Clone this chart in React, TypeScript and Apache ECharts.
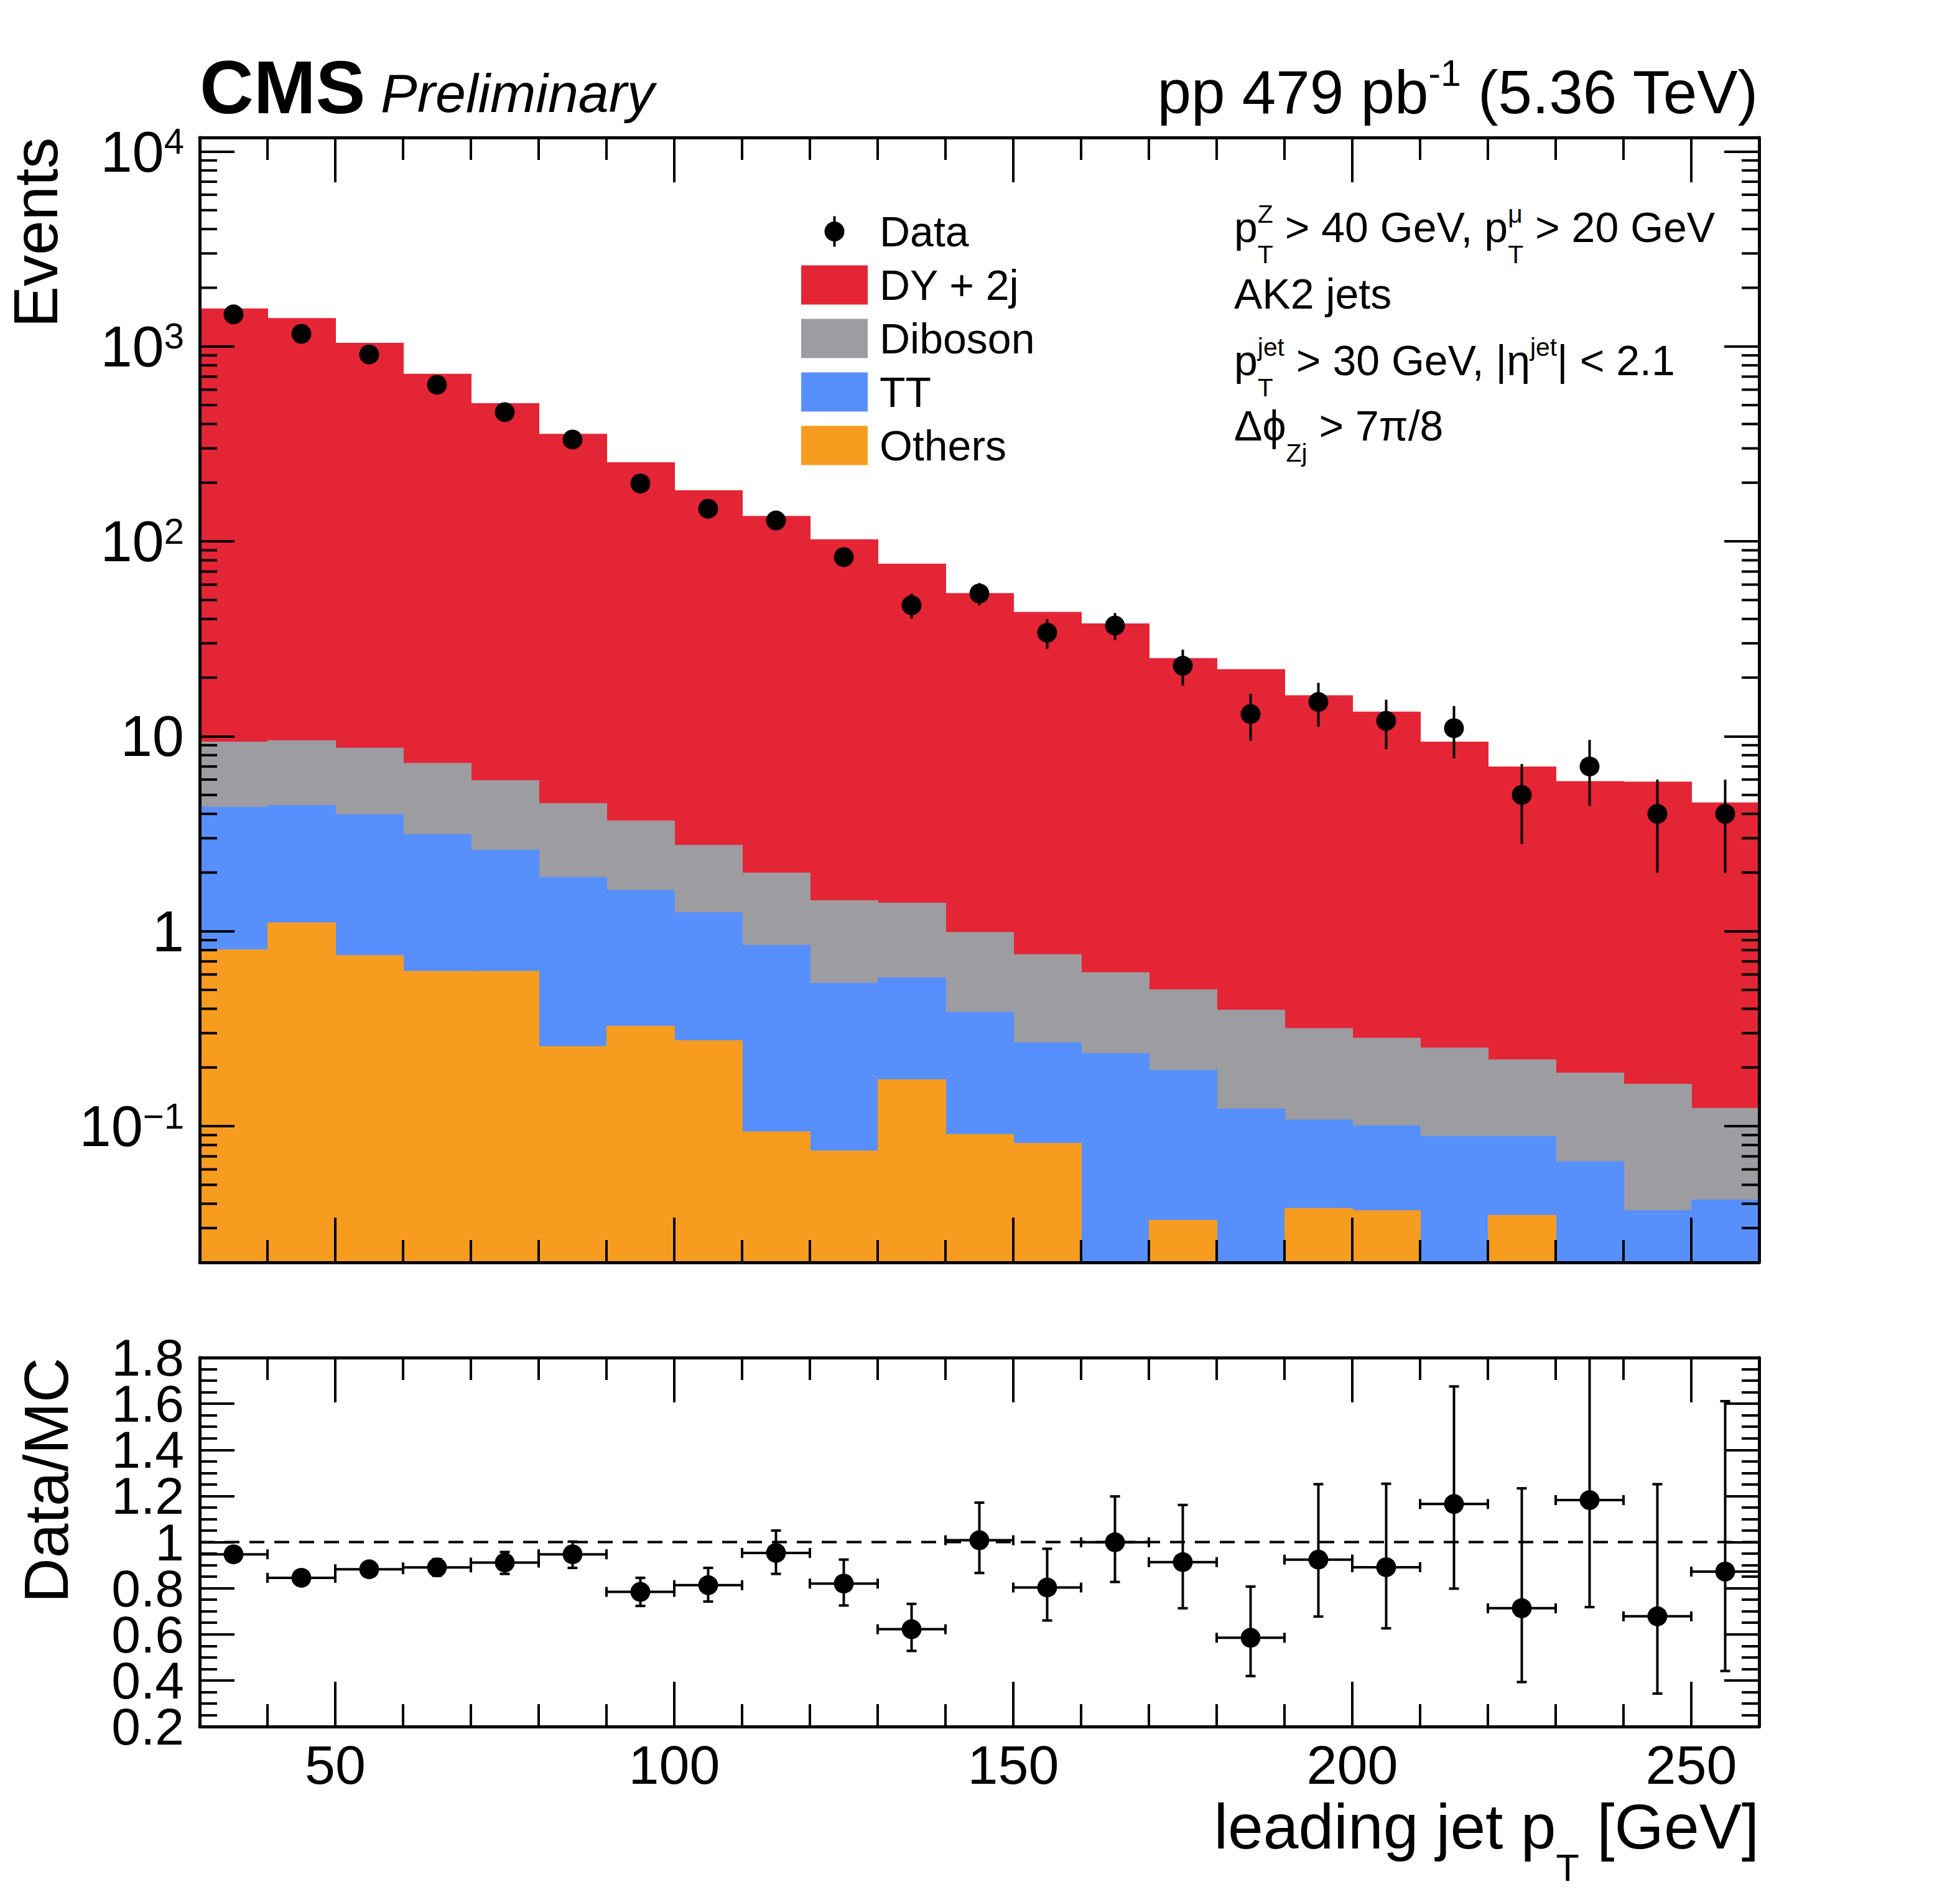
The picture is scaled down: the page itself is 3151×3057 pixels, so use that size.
import React, { useEffect, useRef } from "react";
import * as echarts from "echarts";

const FONT = "'Liberation Sans', Arimo, Helvetica, Arial, sans-serif";

// 10 GeV bins of leading jet pT
const binLow = [30, 40, 50, 60, 70, 80, 90, 100, 110, 120, 130, 140, 150, 160, 170, 180, 190, 200, 210, 220, 230, 240, 250];
const binHigh = [40, 50, 60, 70, 80, 90, 100, 110, 120, 130, 140, 150, 160, 170, 180, 190, 200, 210, 220, 230, 240, 250, 260];
const binCenter = [35, 45, 55, 65, 75, 85, 95, 105, 115, 125, 135, 145, 155, 165, 175, 185, 195, 205, 215, 225, 235, 245, 255];

// expected events per process (stack order bottom -> top: Others, TT, Diboson, DY + 2j)
const dyTwoJet = [1558, 1388, 1035, 717, 506, 352, 251, 180, 133, 101, 75.4, 53.3, 42.7, 37.3, 24.7, 21.7, 15.9, 13.1, 9.13, 6.78, 5.7, 5.69, 4.45];
const diboson = [5.04, 5.1, 4.76, 4.16, 3.34, 2.65, 2.07, 1.52, 1.15, 0.897, 0.821, 0.604, 0.493, 0.379, 0.309, 0.272, 0.21, 0.183, 0.164, 0.131, 0.122, 0.128, 0.082];
const ttbar = [3.54, 3.33, 3.23, 2.52, 1.99, 1.64, 1.3, 0.974, 0.756, 0.468, 0.405, 0.295, 0.187, 0.237, 0.161, 0.123, 0.07, 0.064, 0.089, 0.054, 0.066, 0.037, 0.042];
const others = [0.806, 1.11, 0.753, 0.626, 0.626, 0.257, 0.327, 0.276, 0.094, 0.075, 0.174, 0.091, 0.082, 0, 0.033, 0, 0.038, 0.037, 0, 0.035, 0, 0, 0];

// observed data
const dataCounts = [1460, 1160, 910, 636, 460, 333, 198, 147, 128, 83, 47, 54, 34, 37, 23, 13, 15, 12, 11, 5, 7, 4, 4];
const dataErr = [38, 34, 30, 25, 21, 18, 14, 12, 11, 9, 6.9, 7.1, 5.9, 5.9, 4.8, 3.5, 3.8, 3.4, 3.3, 2.2, 2.6, 2.0, 2.0];

// Data/MC
const ratio = [0.947, 0.845, 0.882, 0.89, 0.911, 0.947, 0.784, 0.813, 0.953, 0.82, 0.622, 1.008, 0.803, 0.999, 0.913, 0.585, 0.924, 0.891, 1.165, 0.713, 1.182, 0.678, 0.872];
const ratioErrDown = [0.025, 0.026, 0.03, 0.036, 0.049, 0.059, 0.061, 0.071, 0.091, 0.095, 0.094, 0.142, 0.143, 0.172, 0.2, 0.166, 0.247, 0.265, 0.367, 0.32, 0.464, 0.335, 0.431];
const ratioErrUp = [0.025, 0.026, 0.03, 0.036, 0.046, 0.055, 0.061, 0.075, 0.097, 0.104, 0.11, 0.163, 0.168, 0.199, 0.248, 0.222, 0.327, 0.362, 0.51, 0.52, 0.7, 0.573, 0.739];

// log axis minor ticks
const logDecades = [0.01, 0.1, 1, 10, 100, 1000];
const logSteps = [2, 3, 4, 5, 6, 7, 8, 9];

const X_MIN = 30;
const X_MAX = 260;
const Y_MIN = 0.02;
const Y_MAX = 11800;
const R_MIN = 0.2;
const R_MAX = 1.8;

const COLORS = {
  dy: "#e42536",
  diboson: "#9c9ca1",
  tt: "#5790fc",
  others: "#f89c20",
};

const DATA_ICON =
  "path://M0 0L0 0ZM107 63L107 63ZM37.5 31.5A16 16 0 1 1 69.5 31.5A16 16 0 1 1 37.5 31.5ZM51.5 7L55.5 7L55.5 56L51.5 56Z";

// --- text helpers (ROOT-like sub/superscripts) ---
let measureCtx: CanvasRenderingContext2D | null = null;
const textWidth = (s: string, size: number, weight = "normal", style = "normal") => {
  if (!measureCtx) measureCtx = document.createElement("canvas").getContext("2d");
  if (!measureCtx) return s.length * size * 0.55;
  measureCtx.font = `${style} ${weight} ${size}px ${FONT}`;
  return measureCtx.measureText(s).width;
};

const txt = (text: string, x: number, baseline: number, size: number, weight = "normal", style = "normal") => ({
  type: "text",
  silent: true,
  x,
  y: baseline - 0.35 * size,
  style: {
    text,
    fontSize: size,
    fontFamily: FONT,
    fontWeight: weight,
    fontStyle: style,
    fill: "#000",
    align: "left",
    verticalAlign: "middle",
  },
});

type Seg = { t?: string; sup?: string; sub?: string };

const latexLine = (segs: Seg[], x: number, baseline: number, F: number, align: "left" | "right" = "left") => {
  const sF = F * 0.6;
  const widths = segs.map((s) =>
    s.t !== undefined
      ? textWidth(s.t, F)
      : Math.max(s.sup ? textWidth(s.sup, sF) : 0, s.sub ? textWidth(s.sub, sF) : 0)
  );
  const total = widths.reduce((a, b) => a + b, 0);
  let cx = align === "right" ? x - total : x;
  const out: any[] = [];
  segs.forEach((s, i) => {
    if (s.t !== undefined) out.push(txt(s.t, cx, baseline, F));
    else {
      if (s.sup) out.push(txt(s.sup, cx, baseline - 0.45 * F, sF));
      if (s.sub) out.push(txt(s.sub, cx, baseline + 0.5 * F, sF));
    }
    cx += widths[i];
  });
  return out;
};

const histSeries = (name: string, color: string, tops: number[]) => ({
  type: "custom",
  name,
  xAxisIndex: 0,
  yAxisIndex: 0,
  clip: true,
  silent: true,
  z: 1,
  itemStyle: { color },
  encode: { x: 0, y: 2 },
  data: tops.map((t, i) => [binLow[i], binHigh[i], t]),
  renderItem: (_p: any, api: any) => {
    const top = api.value(2);
    if (!(top > Y_MIN)) return null;
    const p0 = api.coord([api.value(0), top]);
    const p1 = api.coord([api.value(1), Y_MIN]);
    return {
      type: "rect",
      shape: { x: p0[0], y: p0[1], width: p1[0] - p0[0] + 1, height: p1[1] - p0[1] },
      style: { fill: color },
    };
  },
});

const tickLine = { lineStyle: { color: "#000", width: 4 } };

const xAxisBase = (gridIndex: number, position: "top" | "bottom", labels: boolean) => ({
  type: "value",
  gridIndex,
  position,
  min: X_MIN,
  max: X_MAX,
  splitNumber: 5,
  z: 10,
  axisLine: { show: true, onZero: false, lineStyle: { color: "#000", width: 5 } },
  axisTick: { show: true, inside: true, length: 72, ...tickLine },
  minorTick: { show: true, splitNumber: 5, length: 36, ...tickLine },
  splitLine: { show: false },
  minorSplitLine: { show: false },
  axisLabel: labels
    ? {
        show: true,
        margin: 17,
        fontSize: 88,
        fontFamily: FONT,
        color: "#000",
        formatter: (v: number) => (v % 50 === 0 ? String(v) : ""),
      }
    : { show: false },
});

const logAxis = (position: "left" | "right", labels: boolean) => ({
  type: "log",
  logBase: 10,
  gridIndex: 0,
  position,
  min: Y_MIN,
  max: Y_MAX,
  z: 10,
  axisLine: { show: true, lineStyle: { color: "#000", width: 5 } },
  axisTick: { show: true, inside: true, length: 56, ...tickLine },
  splitLine: { show: false },
  axisLabel: labels
    ? {
        show: true,
        margin: 25,
        color: "#000",
        formatter: (v: number) => {
          const e = Math.round(Math.log10(v));
          const p = Math.pow(10, e);
          if (Math.abs(v - p) > 1e-6 * p) return "";
          if (e === 0) return "{n|1}";
          if (e === 1) return "{n|10}";
          return `{b|10}{s|${e < 0 ? "\u2212" + -e : e}}`;
        },
        rich: {
          n: { fontSize: 92, fontFamily: FONT, color: "#000" },
          b: { fontSize: 92, lineHeight: 92, fontFamily: FONT, color: "#000" },
          s: { fontSize: 58, lineHeight: 48, fontFamily: FONT, color: "#000", verticalAlign: "top" },
        },
      }
    : { show: false },
});

const ratioLabel = (formatter: (v: number) => string, edges: boolean) => ({
  show: true,
  showMinLabel: edges,
  showMaxLabel: edges,
  hideOverlap: false,
  margin: 25,
  color: "#000",
  formatter,
  rich: {
    r: { fontSize: 84, lineHeight: 60, fontFamily: FONT, color: "#000" },
  },
});

const ratioAxis = (position: "left" | "right", labels: boolean) => ({
  type: "value",
  gridIndex: 1,
  position,
  min: R_MIN,
  max: R_MAX,
  interval: 0.2,
  z: 10,
  axisLine: { show: true, lineStyle: { color: "#000", width: 5 } },
  axisTick: { show: true, inside: true, length: 56, ...tickLine },
  minorTick: { show: true, splitNumber: 4, length: 28, ...tickLine },
  splitLine: { show: false },
  minorSplitLine: { show: false },
  axisLabel: labels ? ratioLabel((v: number) => `{r|${+v.toFixed(1)}}`, false) : { show: false },
});

// overlaid axis that only carries the two end labels (0.2 and 1.8)
const ratioEdgeAxis = {
  type: "value",
  gridIndex: 1,
  position: "left",
  min: R_MIN,
  max: R_MAX,
  interval: 0.2,
  z: 10,
  axisLine: { show: false },
  axisTick: { show: false },
  minorTick: { show: false },
  splitLine: { show: false },
  axisLabel: ratioLabel(
    (v: number) =>
      Math.abs(v - R_MIN) < 1e-6 || Math.abs(v - R_MAX) < 1e-6 ? `{r|${+v.toFixed(1)}}` : "",
    true
  ),
};

const App = () => {
  const chartRef = useRef<HTMLDivElement>(null);

  useEffect(() => {
    if (!chartRef.current) return;
    const chart = echarts.init(chartRef.current, undefined, { renderer: "svg" });

    const stackOthers = others;
    const stackTT = ttbar.map((v, i) => v + stackOthers[i]);
    const stackDib = diboson.map((v, i) => v + stackTT[i]);
    const stackDY = dyTwoJet.map((v, i) => v + stackDib[i]);

    const minorLogTicks = logDecades
      .flatMap((d) => logSteps.map((s) => +(s * d).toPrecision(3)))
      .filter((v) => v > Y_MIN && v < Y_MAX);

    const graphics: any[] = [
      // header
      txt("CMS", 321, 182, 120, "bold"),
      txt("Preliminary", 612, 180, 88, "normal", "italic"),
      ...latexLine([{ t: "pp 479 pb" }, { sup: "-1" }, { t: " (5.36 TeV)" }], 2828, 182, 98, "right"),
      // selection
      ...latexLine(
        [{ t: "p" }, { sub: "T", sup: "Z" }, { t: " > 40 GeV, p" }, { sub: "T", sup: "\u03bc" }, { t: " > 20 GeV" }],
        1984, 389, 68
      ),
      ...latexLine([{ t: "AK2 jets" }], 1984, 496, 68),
      ...latexLine(
        [{ t: "p" }, { sub: "T", sup: "jet" }, { t: " > 30 GeV, |\u03b7" }, { sup: "jet" }, { t: "| < 2.1" }],
        1984, 603, 68
      ),
      ...latexLine([{ t: "\u0394\u03d5" }, { sub: "Zj" }, { t: " > 7\u03c0/8" }], 1984, 708, 68),
      // axis titles
      ...latexLine([{ t: "leading jet p" }, { sub: "T" }, { t: " [GeV]" }], 2828, 2972, 102, "right"),
      {
        type: "text",
        silent: true,
        x: 92 - 0.35 * 100,
        y: 221,
        rotation: Math.PI / 2,
        style: {
          text: "Events",
          fontSize: 100,
          lineHeight: 90,
          fontFamily: FONT,
          fill: "#000",
          align: "right",
          verticalAlign: "middle",
        },
      },
      {
        type: "text",
        silent: true,
        x: 109 - 0.35 * 100,
        y: 2182,
        rotation: Math.PI / 2,
        style: {
          text: "Data/MC",
          fontSize: 100,
          lineHeight: 90,
          fontFamily: FONT,
          fill: "#000",
          align: "right",
          verticalAlign: "middle",
        },
      },
    ];

    const option: any = {
      animation: false,
      backgroundColor: "#fff",
      textStyle: { fontFamily: FONT },
      grid: [
        { left: 321, top: 221, width: 2507, height: 1808, containLabel: false, outerBoundsMode: "none" },
        { left: 321, top: 2182, width: 2507, height: 593, containLabel: false, outerBoundsMode: "none" },
      ],
      xAxis: [
        xAxisBase(0, "bottom", false),
        xAxisBase(0, "top", false),
        xAxisBase(1, "bottom", true),
        xAxisBase(1, "top", false),
      ],
      yAxis: [
        logAxis("left", true),
        logAxis("right", false),
        ratioAxis("left", true),
        ratioAxis("right", false),
        ratioEdgeAxis,
      ],
      legend: {
        orient: "vertical",
        left: 1283,
        top: 333,
        itemWidth: 107,
        itemHeight: 63,
        itemGap: 18,
        selectedMode: false,
        textStyle: { fontSize: 68, fontFamily: FONT, color: "#000", lineHeight: 63, padding: [0, 0, 0, 14] },
        data: [
          { name: "Data", icon: DATA_ICON },
          { name: "DY + 2j", icon: "rect" },
          { name: "Diboson", icon: "rect" },
          { name: "TT", icon: "rect" },
          { name: "Others", icon: "rect" },
        ],
      },
      graphic: { elements: graphics },
      series: [
        histSeries("DY + 2j", COLORS.dy, stackDY),
        histSeries("Diboson", COLORS.diboson, stackDib),
        histSeries("TT", COLORS.tt, stackTT),
        histSeries("Others", COLORS.others, stackOthers),
        {
          // log-axis minor ticks (2..9 per decade), both sides
          type: "custom",
          xAxisIndex: 0,
          yAxisIndex: 0,
          silent: true,
          z: 11,
          data: minorLogTicks.map((v) => [X_MIN, v]),
          renderItem: (_p: any, api: any) => {
            const v = api.value(1);
            const l = api.coord([X_MIN, v]);
            const r = api.coord([X_MAX, v]);
            const st = { stroke: "#000", lineWidth: 4 };
            return {
              type: "group",
              children: [
                { type: "line", shape: { x1: l[0], y1: l[1], x2: l[0] + 28, y2: l[1] }, style: st },
                { type: "line", shape: { x1: r[0] - 28, y1: r[1], x2: r[0], y2: r[1] }, style: st },
              ],
            };
          },
        },
        {
          type: "custom",
          xAxisIndex: 0,
          yAxisIndex: 0,
          silent: true,
          clip: true,
          z: 4,
          data: binCenter.map((x, i) => [x, dataCounts[i] - dataErr[i], dataCounts[i] + dataErr[i]]),
          renderItem: (_p: any, api: any) => {
            const x = api.value(0);
            const a = api.coord([x, api.value(2)]);
            const b = api.coord([x, Math.max(api.value(1), Y_MIN)]);
            return {
              type: "line",
              shape: { x1: a[0], y1: a[1], x2: b[0], y2: b[1] },
              style: { stroke: "#000", lineWidth: 4 },
            };
          },
        },
        {
          type: "scatter",
          name: "Data",
          xAxisIndex: 0,
          yAxisIndex: 0,
          symbol: "circle",
          symbolSize: 32,
          z: 5,
          itemStyle: { color: "#000", opacity: 1 },
          data: binCenter.map((x, i) => [x, dataCounts[i]]),
        },
        {
          type: "line",
          xAxisIndex: 2,
          yAxisIndex: 2,
          silent: true,
          symbol: "none",
          z: 3,
          lineStyle: { color: "#000", width: 4, type: [24, 16] },
          data: [
            [X_MIN, 1],
            [X_MAX, 1],
          ],
        },
        {
          type: "custom",
          xAxisIndex: 2,
          yAxisIndex: 2,
          silent: true,
          clip: true,
          z: 4,
          data: binCenter.map((x, i) => [
            x,
            ratio[i],
            ratio[i] - ratioErrDown[i],
            ratio[i] + ratioErrUp[i],
            binLow[i],
            binHigh[i],
          ]),
          renderItem: (_p: any, api: any) => {
            const x = api.value(0);
            const r = api.value(1);
            const c = api.coord([x, r]);
            const lo = api.coord([x, api.value(2)]);
            const hi = api.coord([x, api.value(3)]);
            const L = api.coord([api.value(4), r]);
            const R = api.coord([api.value(5), r]);
            const st = { stroke: "#000", lineWidth: 4 };
            const cap = 8;
            return {
              type: "group",
              children: [
                { type: "line", shape: { x1: c[0], y1: hi[1], x2: c[0], y2: lo[1] }, style: st },
                { type: "line", shape: { x1: L[0], y1: c[1], x2: R[0], y2: c[1] }, style: st },
                { type: "line", shape: { x1: c[0] - cap, y1: hi[1], x2: c[0] + cap, y2: hi[1] }, style: st },
                { type: "line", shape: { x1: c[0] - cap, y1: lo[1], x2: c[0] + cap, y2: lo[1] }, style: st },
                { type: "line", shape: { x1: L[0], y1: c[1] - cap, x2: L[0], y2: c[1] + cap }, style: st },
                { type: "line", shape: { x1: R[0], y1: c[1] - cap, x2: R[0], y2: c[1] + cap }, style: st },
              ],
            };
          },
        },
        {
          type: "scatter",
          xAxisIndex: 2,
          yAxisIndex: 2,
          symbol: "circle",
          symbolSize: 32,
          z: 5,
          itemStyle: { color: "#000", opacity: 1 },
          data: binCenter.map((x, i) => [x, ratio[i]]),
        },
      ],
    };

    chart.setOption(option);
    return () => {
      chart.dispose();
    };
  }, []);

  return (
    <div
      ref={chartRef}
      style={{ position: "absolute", left: 0, top: 0, width: 3151, height: 3057, background: "#fff" }}
    />
  );
};

export default App;
